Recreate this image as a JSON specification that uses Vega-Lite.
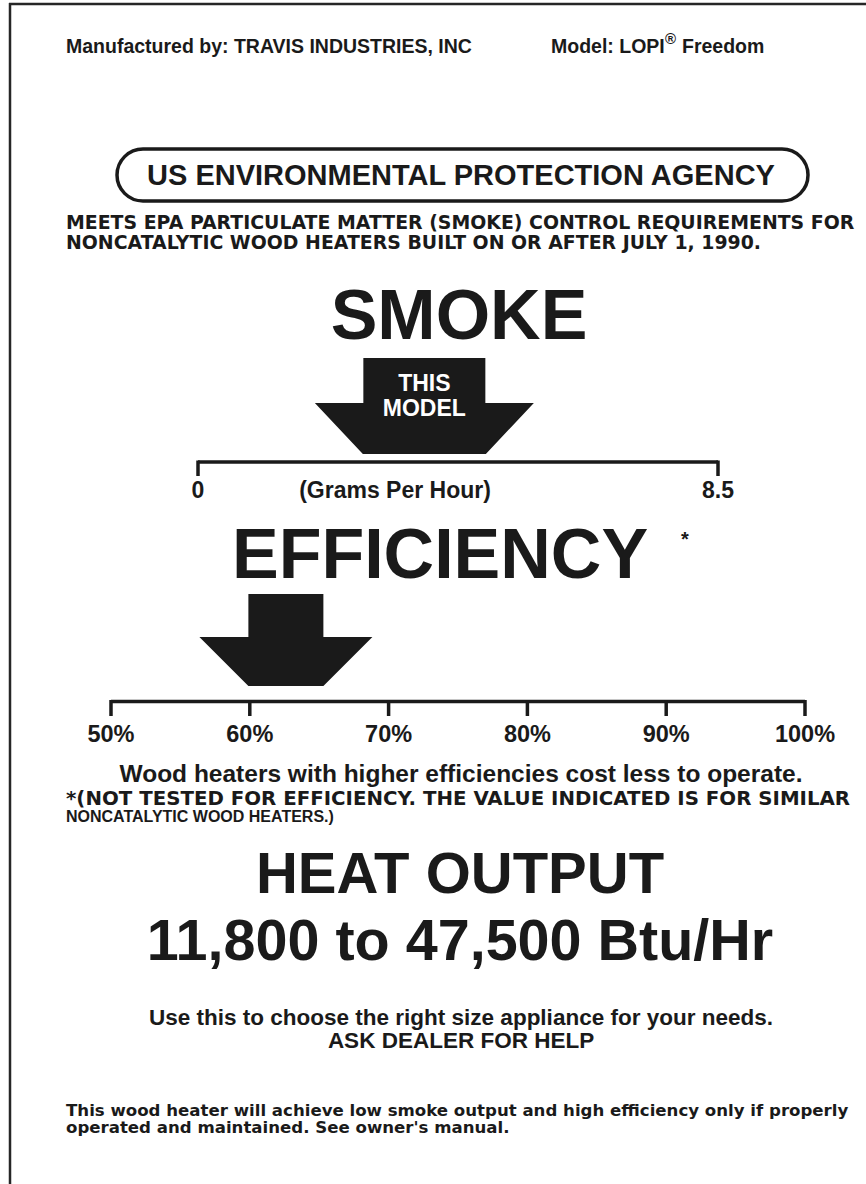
{
  "$schema": "https://vega.github.io/schema/vega-lite/v6.json",
  "width": 866,
  "height": 1184,
  "padding": 0,
  "autosize": "none",
  "background": "white",
  "config": {
    "view": {"stroke": null},
    "axis": {"disable": true},
    "text": {"font": "Liberation Sans", "fontWeight": "bold", "color": "#1a1a1a", "baseline": "middle", "lineBreak": "\n"}
  },
  "resolve": {"scale": {"x": "independent"}},
  "layer": [
    {
      "layer": [
        {
          "data": {"values": [{"part": "left border"}]},
          "mark": {"type": "rule", "color": "#262626", "strokeWidth": 2.5},
          "encoding": {
            "x": {"datum": 10, "scale": {"domain": [0, 866], "nice": false, "zero": false}},
            "y": {"datum": 3, "scale": {"domain": [0, 1184], "nice": false, "zero": false, "reverse": true}},
            "y2": {"datum": 1184}
          }
        },
        {
          "data": {"values": [{"part": "top border"}]},
          "mark": {"type": "rule", "color": "#262626", "strokeWidth": 2.5},
          "encoding": {
            "x": {"datum": 9, "scale": {"domain": [0, 866], "nice": false, "zero": false}},
            "x2": {"datum": 866},
            "y": {"datum": 4, "scale": {"domain": [0, 1184], "nice": false, "zero": false, "reverse": true}}
          }
        },
        {
          "data": {"values": [{"t": "Manufactured by: TRAVIS INDUSTRIES, INC"}]},
          "mark": {"type": "text", "align": "left", "fontSize": 19.5},
          "encoding": {
            "text": {"field": "t"},
            "x": {"datum": 66, "scale": {"domain": [0, 866], "nice": false, "zero": false}},
            "y": {"datum": 47, "scale": {"domain": [0, 1184], "nice": false, "zero": false, "reverse": true}}
          }
        },
        {
          "data": {"values": [{"t": "Model: LOPI"}]},
          "mark": {"type": "text", "align": "left", "fontSize": 19.5},
          "encoding": {
            "text": {"field": "t"},
            "x": {"datum": 551, "scale": {"domain": [0, 866], "nice": false, "zero": false}},
            "y": {"datum": 47, "scale": {"domain": [0, 1184], "nice": false, "zero": false, "reverse": true}}
          }
        },
        {
          "data": {"values": [{"t": "®"}]},
          "mark": {"type": "text", "align": "left", "fontSize": 15},
          "encoding": {
            "text": {"field": "t"},
            "x": {"datum": 665, "scale": {"domain": [0, 866], "nice": false, "zero": false}},
            "y": {"datum": 39, "scale": {"domain": [0, 1184], "nice": false, "zero": false, "reverse": true}}
          }
        },
        {
          "data": {"values": [{"t": "Freedom"}]},
          "mark": {"type": "text", "align": "left", "fontSize": 19.5},
          "encoding": {
            "text": {"field": "t"},
            "x": {"datum": 682, "scale": {"domain": [0, 866], "nice": false, "zero": false}},
            "y": {"datum": 47, "scale": {"domain": [0, 1184], "nice": false, "zero": false, "reverse": true}}
          }
        },
        {
          "data": {"values": [{"t": "US ENVIRONMENTAL PROTECTION AGENCY"}]},
          "mark": {"type": "rect", "filled": false, "stroke": "#1a1a1a", "strokeWidth": 3.5, "cornerRadius": 26},
          "encoding": {
            "x": {"datum": 117, "scale": {"domain": [0, 866], "nice": false, "zero": false}},
            "x2": {"datum": 808},
            "y": {"datum": 149, "scale": {"domain": [0, 1184], "nice": false, "zero": false, "reverse": true}},
            "y2": {"datum": 201}
          }
        },
        {
          "data": {"values": [{"t": "US ENVIRONMENTAL PROTECTION AGENCY"}]},
          "mark": {"type": "text", "align": "center", "fontSize": 29},
          "encoding": {
            "text": {"field": "t"},
            "x": {"datum": 461, "scale": {"domain": [0, 866], "nice": false, "zero": false}},
            "y": {"datum": 176, "scale": {"domain": [0, 1184], "nice": false, "zero": false, "reverse": true}}
          }
        },
        {
          "data": {"values": [{"t": "MEETS EPA PARTICULATE MATTER (SMOKE) CONTROL REQUIREMENTS FOR\nNONCATALYTIC WOOD HEATERS BUILT ON OR AFTER JULY 1, 1990."}]},
          "mark": {"type": "text", "align": "left", "baseline": "top", "font": "DejaVu Sans", "fontSize": 18.9, "lineHeight": 20},
          "encoding": {
            "text": {"field": "t"},
            "x": {"datum": 66, "scale": {"domain": [0, 866], "nice": false, "zero": false}},
            "y": {"datum": 213.5, "scale": {"domain": [0, 1184], "nice": false, "zero": false, "reverse": true}}
          }
        },
        {
          "data": {"values": [{"t": "SMOKE"}]},
          "mark": {"type": "text", "align": "center", "fontSize": 70},
          "encoding": {
            "text": {"field": "t"},
            "x": {"datum": 459, "scale": {"domain": [0, 866], "nice": false, "zero": false}},
            "y": {"datum": 318, "scale": {"domain": [0, 1184], "nice": false, "zero": false, "reverse": true}}
          }
        },
        {
          "data": {"values": [{"t": "(Grams Per Hour)"}]},
          "mark": {"type": "text", "align": "center", "fontSize": 23},
          "encoding": {
            "text": {"field": "t"},
            "x": {"datum": 395, "scale": {"domain": [0, 866], "nice": false, "zero": false}},
            "y": {"datum": 490.5, "scale": {"domain": [0, 1184], "nice": false, "zero": false, "reverse": true}}
          }
        },
        {
          "data": {"values": [{"t": "EFFICIENCY"}]},
          "mark": {"type": "text", "align": "center", "fontSize": 70},
          "encoding": {
            "text": {"field": "t"},
            "x": {"datum": 440, "scale": {"domain": [0, 866], "nice": false, "zero": false}},
            "y": {"datum": 557, "scale": {"domain": [0, 1184], "nice": false, "zero": false, "reverse": true}}
          }
        },
        {
          "data": {"values": [{"t": "*"}]},
          "mark": {"type": "text", "align": "center", "fontSize": 20},
          "encoding": {
            "text": {"field": "t"},
            "x": {"datum": 685, "scale": {"domain": [0, 866], "nice": false, "zero": false}},
            "y": {"datum": 540, "scale": {"domain": [0, 1184], "nice": false, "zero": false, "reverse": true}}
          }
        },
        {
          "data": {"values": [{"t": "Wood heaters with higher efficiencies cost less to operate."}]},
          "mark": {"type": "text", "align": "center", "fontSize": 24.5},
          "encoding": {
            "text": {"field": "t"},
            "x": {"datum": 461, "scale": {"domain": [0, 866], "nice": false, "zero": false}},
            "y": {"datum": 775, "scale": {"domain": [0, 1184], "nice": false, "zero": false, "reverse": true}}
          }
        },
        {
          "data": {"values": [{"t": "*(NOT TESTED FOR EFFICIENCY. THE VALUE INDICATED IS FOR SIMILAR"}]},
          "mark": {"type": "text", "align": "left", "font": "DejaVu Sans", "fontSize": 19.8},
          "encoding": {
            "text": {"field": "t"},
            "x": {"datum": 66, "scale": {"domain": [0, 866], "nice": false, "zero": false}},
            "y": {"datum": 799, "scale": {"domain": [0, 1184], "nice": false, "zero": false, "reverse": true}}
          }
        },
        {
          "data": {"values": [{"t": "NONCATALYTIC WOOD HEATERS.)"}]},
          "mark": {"type": "text", "align": "left", "fontSize": 16},
          "encoding": {
            "text": {"field": "t"},
            "x": {"datum": 66, "scale": {"domain": [0, 866], "nice": false, "zero": false}},
            "y": {"datum": 817, "scale": {"domain": [0, 1184], "nice": false, "zero": false, "reverse": true}}
          }
        },
        {
          "data": {"values": [{"t": "HEAT OUTPUT"}]},
          "mark": {"type": "text", "align": "center", "fontSize": 58},
          "encoding": {
            "text": {"field": "t"},
            "x": {"datum": 460, "scale": {"domain": [0, 866], "nice": false, "zero": false}},
            "y": {"datum": 876, "scale": {"domain": [0, 1184], "nice": false, "zero": false, "reverse": true}}
          }
        },
        {
          "data": {"values": [{"t": "11,800 to 47,500 Btu/Hr"}]},
          "mark": {"type": "text", "align": "center", "fontSize": 57.5},
          "encoding": {
            "text": {"field": "t"},
            "x": {"datum": 460, "scale": {"domain": [0, 866], "nice": false, "zero": false}},
            "y": {"datum": 943, "scale": {"domain": [0, 1184], "nice": false, "zero": false, "reverse": true}}
          }
        },
        {
          "data": {"values": [{"t": "Use this to choose the right size appliance for your needs.\nASK DEALER FOR HELP"}]},
          "mark": {"type": "text", "align": "center", "baseline": "top", "fontSize": 22.5, "lineHeight": 23},
          "encoding": {
            "text": {"field": "t"},
            "x": {"datum": 461, "scale": {"domain": [0, 866], "nice": false, "zero": false}},
            "y": {"datum": 1007.3, "scale": {"domain": [0, 1184], "nice": false, "zero": false, "reverse": true}}
          }
        },
        {
          "data": {"values": [{"t": "This wood heater will achieve low smoke output and high efficiency only if properly\noperated and maintained. See owner's manual."}]},
          "mark": {"type": "text", "align": "left", "baseline": "top", "font": "DejaVu Sans", "fontSize": 16.6, "lineHeight": 17},
          "encoding": {
            "text": {"field": "t"},
            "x": {"datum": 66, "scale": {"domain": [0, 866], "nice": false, "zero": false}},
            "y": {"datum": 1103, "scale": {"domain": [0, 1184], "nice": false, "zero": false, "reverse": true}}
          }
        }
      ]
    },
    {
      "layer": [
        {
          "data": {"values": [{"from": 0, "to": 8.5}]},
          "mark": {"type": "rule", "color": "#1a1a1a", "strokeWidth": 3.5},
          "encoding": {
            "x": {"field": "from", "type": "quantitative", "scale": {"domain": [-3.2366, 10.9193], "nice": false, "zero": false}},
            "x2": {"field": "to"},
            "y": {"datum": 462, "scale": {"domain": [0, 1184], "nice": false, "zero": false, "reverse": true}}
          }
        },
        {
          "data": {"values": [{"gph": 0, "label": "0"}, {"gph": 8.5, "label": "8.5"}]},
          "mark": {"type": "rule", "color": "#1a1a1a", "strokeWidth": 3.5},
          "encoding": {
            "x": {"field": "gph", "type": "quantitative", "scale": {"domain": [-3.2366, 10.9193], "nice": false, "zero": false}},
            "y": {"datum": 460.5, "scale": {"domain": [0, 1184], "nice": false, "zero": false, "reverse": true}},
            "y2": {"datum": 476}
          }
        },
        {
          "data": {"values": [{"gph": 0, "label": "0"}, {"gph": 8.5, "label": "8.5"}]},
          "mark": {"type": "text", "align": "center", "fontSize": 23},
          "encoding": {
            "x": {"field": "gph", "type": "quantitative", "scale": {"domain": [-3.2366, 10.9193], "nice": false, "zero": false}},
            "y": {"datum": 490.5, "scale": {"domain": [0, 1184], "nice": false, "zero": false, "reverse": true}},
            "text": {"field": "label"}
          }
        },
        {
          "data": {"values": [{"gph": 3.7, "label": "THIS\nMODEL"}]},
          "mark": {"type": "point", "shape": "M-1.22,-0.96L1.22,-0.96L1.22,-0.06L2.19,-0.06L1.23,0.96L-1.23,0.96L-2.19,-0.06L-1.22,-0.06Z", "size": 10000, "filled": true, "color": "#1a1a1a", "opacity": 1, "strokeWidth": 0},
          "encoding": {
            "x": {"field": "gph", "type": "quantitative", "scale": {"domain": [-3.2366, 10.9193], "nice": false, "zero": false}},
            "y": {"datum": 406, "scale": {"domain": [0, 1184], "nice": false, "zero": false, "reverse": true}}
          }
        },
        {
          "data": {"values": [{"gph": 3.7, "label": "THIS\nMODEL"}]},
          "mark": {"type": "text", "align": "center", "baseline": "top", "fontSize": 23, "lineHeight": 24.5, "color": "white"},
          "encoding": {
            "x": {"field": "gph", "type": "quantitative", "scale": {"domain": [-3.2366, 10.9193], "nice": false, "zero": false}},
            "y": {"datum": 373, "scale": {"domain": [0, 1184], "nice": false, "zero": false, "reverse": true}},
            "text": {"field": "label"}
          }
        }
      ]
    },
    {
      "layer": [
        {
          "data": {"values": [{"from": 50, "to": 100}]},
          "mark": {"type": "rule", "color": "#1a1a1a", "strokeWidth": 3.5},
          "encoding": {
            "x": {"field": "from", "type": "quantitative", "scale": {"domain": [42.003, 104.395], "nice": false, "zero": false}},
            "x2": {"field": "to"},
            "y": {"datum": 701.5, "scale": {"domain": [0, 1184], "nice": false, "zero": false, "reverse": true}}
          }
        },
        {
          "data": {"values": [{"pct": 50, "label": "50%"}, {"pct": 60, "label": "60%"}, {"pct": 70, "label": "70%"}, {"pct": 80, "label": "80%"}, {"pct": 90, "label": "90%"}, {"pct": 100, "label": "100%"}]},
          "mark": {"type": "rule", "color": "#1a1a1a", "strokeWidth": 3.5},
          "encoding": {
            "x": {"field": "pct", "type": "quantitative", "scale": {"domain": [42.003, 104.395], "nice": false, "zero": false}},
            "y": {"datum": 700, "scale": {"domain": [0, 1184], "nice": false, "zero": false, "reverse": true}},
            "y2": {"datum": 716}
          }
        },
        {
          "data": {"values": [{"pct": 50, "label": "50%"}, {"pct": 60, "label": "60%"}, {"pct": 70, "label": "70%"}, {"pct": 80, "label": "80%"}, {"pct": 90, "label": "90%"}, {"pct": 100, "label": "100%"}]},
          "mark": {"type": "text", "align": "center", "fontSize": 23.5},
          "encoding": {
            "x": {"field": "pct", "type": "quantitative", "scale": {"domain": [42.003, 104.395], "nice": false, "zero": false}},
            "y": {"datum": 735, "scale": {"domain": [0, 1184], "nice": false, "zero": false, "reverse": true}},
            "text": {"field": "label"}
          }
        },
        {
          "data": {"values": [{"pct": 62.6}]},
          "mark": {"type": "point", "shape": "M-0.75,-0.92L0.75,-0.92L0.75,-0.06L1.73,-0.06L0.75,0.92L-0.75,0.92L-1.73,-0.06L-0.75,-0.06Z", "size": 10000, "filled": true, "color": "#1a1a1a", "opacity": 1, "strokeWidth": 0},
          "encoding": {
            "x": {"field": "pct", "type": "quantitative", "scale": {"domain": [42.003, 104.395], "nice": false, "zero": false}},
            "y": {"datum": 640, "scale": {"domain": [0, 1184], "nice": false, "zero": false, "reverse": true}}
          }
        }
      ]
    }
  ]
}
